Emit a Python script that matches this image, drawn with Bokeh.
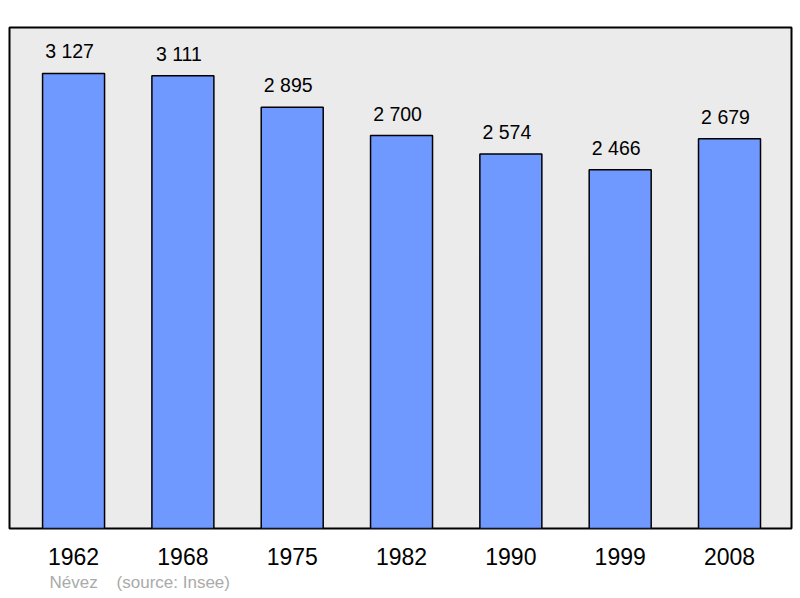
from bokeh.plotting import figure
from bokeh.models import ColumnDataSource, Range1d, FixedTicker, Title
from bokeh.core.properties import value
from bokeh.embed import file_html
from bokeh.resources import INLINE

years = ["1962", "1968", "1975", "1982", "1990", "1999", "2008"]
population = [3127, 3111, 2895, 2700, 2574, 2466, 2679]
pop_labels = ["3 127", "3 111", "2 895", "2 700", "2 574", "2 466", "2 679"]
footer_text = "Névez\u00a0\u00a0\u00a0\u00a0(source: Insee)"
positions = list(range(len(years)))

src = ColumnDataSource(dict(x=positions, top=population, lab=pop_labels))

p = figure(width=800, height=598, output_backend="svg", toolbar_location=None,
           x_range=Range1d(-0.586, 6.567), y_range=Range1d(0, 3443),
           min_border_left=9, min_border_right=9, min_border_top=27, min_border_bottom=70)
p.outline_line_color = "black"
p.outline_line_width = 2
p.background_fill_color = "#ebebeb"
p.border_fill_color = "white"
p.xgrid.visible = False
p.ygrid.visible = False
p.yaxis.visible = False

p.vbar(x="x", top="top", width=0.567, source=src, fill_color="#7099ff",
       line_color="black", line_width=1.5)
p.text(x="x", y="top", text="lab", source=src, text_align="center", text_baseline="middle",
       x_offset=-4, y_offset=-22, text_font=value("Liberation Sans"), text_font_size="19.5px",
       text_color="black")

ax = p.xaxis[0]
ax.ticker = FixedTicker(ticks=positions)
ax.major_label_overrides = {i: y for i, y in enumerate(years)}
ax.axis_line_color = None
ax.major_tick_line_color = None
ax.minor_tick_line_color = None
ax.major_label_text_font = "Liberation Sans"
ax.major_label_text_font_size = "23px"
ax.major_label_text_color = "black"
ax.major_label_standoff = 13

footer = Title(text=footer_text, align="left", offset=40, standoff=6,
               text_font="Liberation Sans", text_font_size="17px", text_color="#aaaaaa",
               text_font_style="normal")
p.add_layout(footer, "below")

open("out.html", "w").write(file_html(p, INLINE))
